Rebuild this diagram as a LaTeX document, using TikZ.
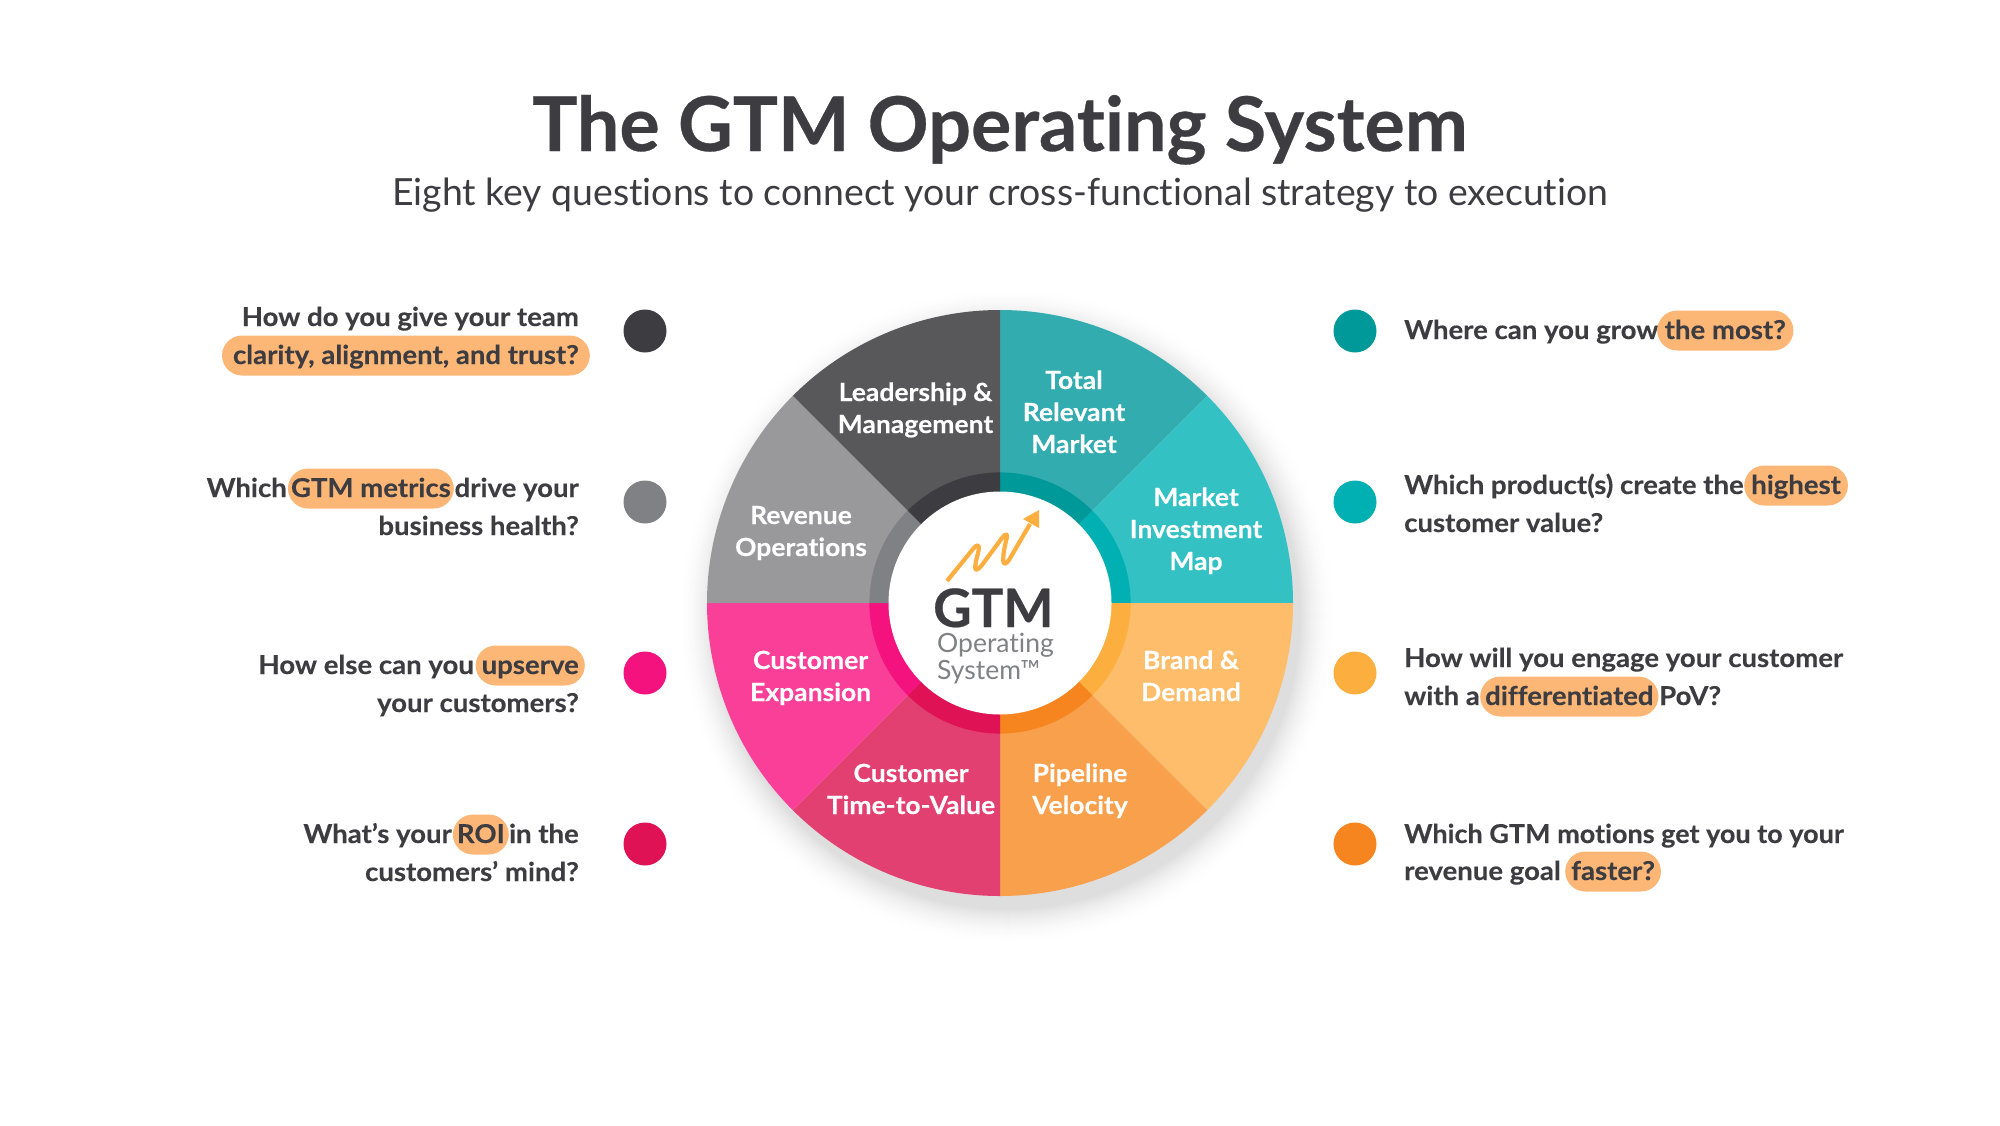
\documentclass[tikz,border=0pt]{standalone}
\usepackage{graphicx}
\usepackage{fontspec}
\setmainfont{Lato}[Ligatures=NoCommon,BoldFeatures={FakeStretch=1.06,FakeBold=0.25}]
\newfontfamily\titlefont{Lato}[Ligatures=NoCommon,BoldFeatures={FakeBold=0.4}]
\definecolor{ink}{HTML}{3C3C41}
\definecolor{pillc}{HTML}{FCB777}
\definecolor{sTRM}{HTML}{33ACAF}\definecolor{rTRM}{HTML}{00999A}
\definecolor{sMIM}{HTML}{33C1C4}\definecolor{rMIM}{HTML}{00B0B3}
\definecolor{sBD}{HTML}{FDBD6B}\definecolor{rBD}{HTML}{FCAE3F}
\definecolor{sPV}{HTML}{F9A04D}\definecolor{rPV}{HTML}{F6851F}
\definecolor{sTV}{HTML}{E34072}\definecolor{rTV}{HTML}{DE1254}
\definecolor{sCE}{HTML}{F93F98}\definecolor{rCE}{HTML}{F4127F}
\definecolor{sRO}{HTML}{99999B}\definecolor{rRO}{HTML}{808184}
\definecolor{sLM}{HTML}{58585A}\definecolor{rLM}{HTML}{3D3C41}
\tikzset{
 qtext/.style={font=\fontsize{26}{30}\selectfont\bfseries,text=ink,inner sep=0pt},
 pill/.style={qtext,fill=pillc,rounded corners=20pt,inner xsep=6pt,inner ysep=0pt,text height=28.5pt,text depth=11.5pt},
 dot/.style={circle,minimum size=43pt,inner sep=0pt},
 seglabel/.style={font=\fontsize{25}{32}\selectfont\bfseries,text=white,align=center,inner sep=0pt,anchor=base}
}
\begin{document}
\begin{tikzpicture}[x=1pt,y=-1pt]
\useasboundingbox (0,0) rectangle (2000,1125);
\fill[white] (0,0) rectangle (2000,1125);
\node[font=\titlefont\fontsize{75.5}{90}\selectfont\bfseries,text=ink,anchor=base,inner sep=0pt] (title) at (1000,151) {The GTM Operating System};
\node[font=\fontsize{37.4}{44}\selectfont,text=ink,anchor=base,inner sep=0pt] (subtitle) at (1000,205) {Eight key questions to connect your cross-functional strategy to execution};
% wheel shadow
\foreach \r in {330,329,...,293}{
 \pgfmathsetmacro\p{13*((330-\r)/37)^2}
 \fill[black!\p!white] (1007,616) circle[radius=\r];
}
\begin{scope}[shift={(1000,603)},y=1pt]
\foreach \a/\s/\q in {45/sTRM/rTRM,0/sMIM/rMIM,-45/sBD/rBD,-90/sPV/rPV,-135/sTV/rTV,-180/sCE/rCE,-225/sRO/rRO,-270/sLM/rLM}{
 \pgfmathsetmacro\b{\a+45}
 \fill[\s] (0,0) -- (\a:293pt) arc[start angle=\a,end angle=\b,radius=293pt] -- cycle;
}
\foreach \a/\s/\q in {45/sTRM/rTRM,0/sMIM/rMIM,-45/sBD/rBD,-90/sPV/rPV,-135/sTV/rTV,-180/sCE/rCE,-225/sRO/rRO,-270/sLM/rLM}{
 \pgfmathsetmacro\b{\a+45}
 \fill[\q] (0,0) -- (\a:130.6pt) arc[start angle=\a,end angle=\b,radius=130.6pt] -- cycle;
}
\fill[white] (0,0) circle[radius=111.5pt];
\end{scope}
% wheel labels (anchor=base is the last line)
\node[seglabel] (lm) at (915.5,433) {Leadership \&\\Management};
\node[seglabel] (trm) at (1074,453) {Total\\Relevant\\Market};
\node[seglabel] (mim) at (1196,570) {Market\\Investment\\Map};
\node[seglabel] (ro) at (801,556) {Revenue\\Operations};
\node[seglabel] (ce) at (810.6,701) {Customer\\Expansion};
\node[seglabel] (bd) at (1191,701) {Brand \&\\Demand};
\node[seglabel] (tv) at (911,814) {Customer\\Time-to-Value};
\node[seglabel] (pv) at (1080,814) {Pipeline\\Velocity};
% logo
\draw[rBD,line width=4.2pt,line join=round] (947,581) -- (973,549) .. controls (979,542) and (980,546) .. (978,553) .. controls (973,572) and (975,573) .. (982,565) -- (1002,538) .. controls (1007,532) and (1008,534) .. (1006,541) .. controls (1001,563) and (1003,568) .. (1009,560) -- (1030,524);
\fill[rBD] (1039,510) -- (1023,519) -- (1039,528) -- cycle;
\node[font=\titlefont\fontsize{53}{60}\selectfont\bfseries,text=ink,anchor=base west,inner sep=0pt] (gtm) at (933,627) {GTM};
\node[font=\fontsize{26.5}{30}\selectfont,text=rRO,anchor=base west,inner sep=0pt] (op) at (937,652) {Operating};
\node[font=\fontsize{26.5}{30}\selectfont,text=rRO,anchor=base west,inner sep=0pt] (sys) at (937,679) {System™};
% left dots
\node[dot,fill=rLM] (dl1) at (645,331) {};
\node[dot,fill=rRO] (dl2) at (645,502) {};
\node[dot,fill=rCE] (dl3) at (645,673) {};
\node[dot,fill=rTV] (dl4) at (645,844) {};
% right dots
\node[dot,fill=rTRM] (dr1) at (1355,331) {};
\node[dot,fill=rMIM] (dr2) at (1355,502) {};
\node[dot,fill=rBD] (dr3) at (1355,673) {};
\node[dot,fill=rPV] (dr4) at (1355,844) {};
% left questions
\node[qtext,anchor=base east] (l1a) at (579,326) {How do you give your team};
\node[pill,inner xsep=11pt,anchor=base east] (l1b) at (590,364) {clarity, alignment, and trust?};
\node[qtext,anchor=base east] (l2c) at (579,497) {drive your};
\node[pill,inner xsep=3pt,anchor=base east] (l2b) at (454,497) {GTM metrics};
\node[qtext,anchor=base east] (l2a) at (287,497) {Which};
\node[qtext,anchor=base east] (l2d) at (579,535) {business health?};
\node[pill,anchor=base east] (l3b) at (585,674) {upserve};
\node[qtext,anchor=base east] (l3a) at (474,674) {How else can you};
\node[qtext,anchor=base east] (l3c) at (579,712) {your customers?};
\node[qtext,anchor=base east] (l4c) at (579,843) {in the};
\node[pill,inner xsep=4pt,anchor=base east] (l4b) at (509,843) {ROI};
\node[qtext,anchor=base east] (l4a) at (452,843) {What’s your};
\node[qtext,anchor=base east] (l4d) at (579,881) {customers’ mind?};
% right questions
\node[qtext,anchor=base west] (r1a) at (1404,339) {Where can you grow};
\node[pill,inner xsep=7.5pt,anchor=base west] (r1b) at (1657,339) {the most?};
\node[qtext,anchor=base west] (r2a) at (1404,494) {Which product(s) create the};
\node[pill,inner xsep=7pt,anchor=base west] (r2b) at (1744,494) {highest};
\node[qtext,anchor=base west] (r2c) at (1404,532) {customer value?};
\node[qtext,anchor=base west] (r3a) at (1404,667) {How will you engage your customer};
\node[qtext,anchor=base west] (r3b) at (1404,705) {with a};
\node[pill,inner xsep=5pt,anchor=base west] (r3c) at (1480,705) {differentiated};
\node[qtext,anchor=base west] (r3d) at (1659,705) {PoV?};
\node[qtext,anchor=base west] (r4a) at (1404,843) {\scalebox{0.98}[1]{Which GTM motions get you to your}};
\node[qtext,anchor=base west] (r4b) at (1404,880) {revenue goal};
\node[pill,anchor=base west] (r4c) at (1565,880) {faster?};
\end{tikzpicture}
\end{document}
